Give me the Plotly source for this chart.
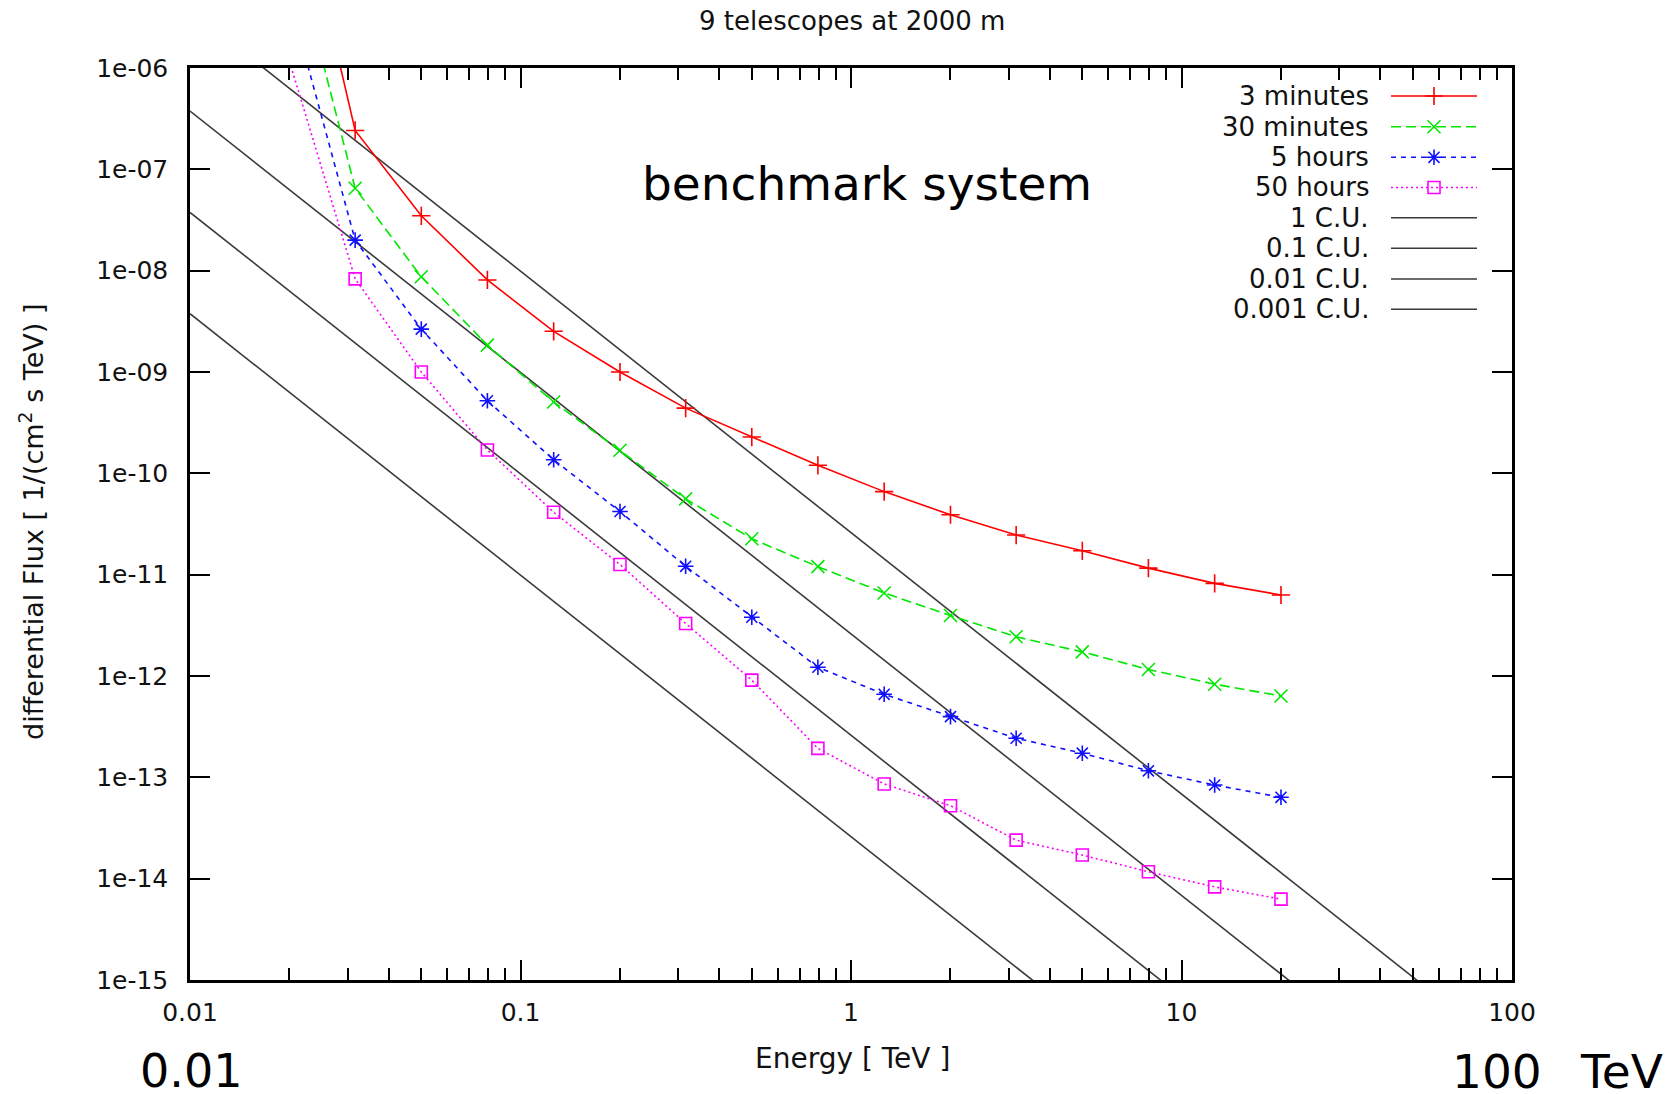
import plotly.graph_objects as go

# ---------------- data ----------------
energy = [0.0200, 0.0316, 0.0501, 0.0794, 0.126, 0.200, 0.316, 0.501, 0.794,
          1.26, 2.00, 3.16, 5.01, 7.94, 12.6, 20.0]
flux_3min = [1.5e-4, 2.42e-7, 3.48e-8, 8.1e-9, 2.52e-9, 1.0e-9, 4.4e-10, 2.28e-10,
             1.2e-10, 6.6e-11, 3.9e-11, 2.46e-11, 1.72e-11, 1.16e-11, 8.2e-12, 6.3e-12]
flux_30min = [2.2e-5, 6.5e-8, 8.7e-9, 1.84e-9, 5.06e-10, 1.69e-10, 5.6e-11, 2.26e-11,
              1.2e-11, 6.6e-12, 3.95e-12, 2.44e-12, 1.73e-12, 1.16e-12, 8.3e-13, 6.35e-13]
flux_5h = [4.9e-6, 2.0e-8, 2.65e-9, 5.2e-10, 1.36e-10, 4.2e-11, 1.21e-11, 3.8e-12,
           1.22e-12, 6.6e-13, 3.97e-13, 2.43e-13, 1.73e-13, 1.16e-13, 8.4e-14, 6.35e-14]
flux_50h = [1.16e-6, 8.3e-9, 1.0e-9, 1.7e-10, 4.13e-11, 1.26e-11, 3.3e-12, 9.1e-13,
            1.93e-13, 8.6e-14, 5.25e-14, 2.4e-14, 1.71e-14, 1.17e-14, 8.3e-15, 6.28e-15]

# Crab-unit reference lines (straight power laws): flux at the two ends of the axis
cu_energy = [0.01, 100.0]
cu_1 = [3.76e-6, 1.80e-16]
cu_01 = [3.76e-7, 1.80e-17]
cu_001 = [3.76e-8, 1.80e-18]
cu_0001 = [3.76e-9, 1.80e-19]

x_tickvals = [0.01, 0.1, 1, 10, 100]
x_ticktext = ["0.01", "0.1", "1", "10", "100"]
y_tickvals = [1e-6, 1e-7, 1e-8, 1e-9, 1e-10, 1e-11, 1e-12, 1e-13, 1e-14, 1e-15]
y_ticktext = ["1e-06", "1e-07", "1e-08", "1e-09", "1e-10", "1e-11", "1e-12",
              "1e-13", "1e-14", "1e-15"]

series_names = ["3 minutes", "30 minutes", "5 hours", "50 hours"]
cu_names = ["1 C.U.", "0.1 C.U.", "0.01 C.U.", "0.001 C.U."]

# ---------------- styles ----------------
FONT = "DejaVu Sans"
styles = [
    dict(color="#ff0000", dash="solid", symbol="cross-thin-open", size=13),
    dict(color="#00e800", dash="10px,5px", symbol="x-thin-open", size=13),
    dict(color="#1010ff", dash="5px,5px", symbol="asterisk-open", size=13),
    dict(color="#ff00ff", dash="2px,3px", symbol="square-open", size=12),
]
CU_COLOR = "#3a3a3a"

fig = go.Figure()

for cu in [cu_1, cu_01, cu_001, cu_0001]:
    fig.add_trace(go.Scatter(x=cu_energy, y=cu, mode="lines",
                             line=dict(color=CU_COLOR, width=1.6),
                             showlegend=False, hoverinfo="skip"))

for flux, st in zip([flux_3min, flux_30min, flux_5h, flux_50h], styles):
    fig.add_trace(go.Scatter(x=energy, y=flux, mode="lines",
                             line=dict(color=st["color"], width=1.6, dash=st["dash"]),
                             showlegend=False, hoverinfo="skip"))
    fig.add_trace(go.Scatter(x=energy[1:], y=flux[1:], mode="markers",
                             marker=dict(symbol=st["symbol"], size=st["size"],
                                         color=st["color"],
                                         line=dict(color=st["color"], width=1.6)),
                             showlegend=False))

# ---------------- manual legend (pixel overlay axes) ----------------
L, R, T, B = 190, 168, 68, 114
W, H = 1680, 1094
PW, PH = W - L - R, H - T - B
row_y = [96, 126.7, 157.3, 187.5, 217.7, 248.3, 279, 309.3]
text_x = 1371
samp_x0, samp_x1, samp_mid = 1391, 1477, 1434


def px(x):
    return (x - L) / PW


def py(y):
    return (H - B - y) / PH


annotations = []
for i, name in enumerate(series_names + cu_names):
    annotations.append(dict(x=px(text_x), y=py(row_y[i]), text=name,
                            xanchor="right", yanchor="middle",
                            font=dict(family=FONT, size=26, color="#111")))
for i, st in enumerate(styles):
    fig.add_trace(go.Scatter(x=[samp_x0, samp_x1], y=[row_y[i], row_y[i]], mode="lines",
                             xaxis="x2", yaxis="y2",
                             line=dict(color=st["color"], width=1.6, dash=st["dash"]),
                             showlegend=False, hoverinfo="skip"))
    fig.add_trace(go.Scatter(x=[samp_mid], y=[row_y[i]], mode="markers",
                             xaxis="x2", yaxis="y2",
                             marker=dict(symbol=st["symbol"], size=st["size"], color=st["color"],
                                         line=dict(color=st["color"], width=1.6)),
                             showlegend=False, hoverinfo="skip"))
for j in range(4):
    fig.add_trace(go.Scatter(x=[samp_x0, samp_x1], y=[row_y[4 + j], row_y[4 + j]],
                             mode="lines", xaxis="x2", yaxis="y2",
                             line=dict(color=CU_COLOR, width=1.6),
                             showlegend=False, hoverinfo="skip"))

# other texts (paper coordinates computed from pixels)
annotations += [
    dict(x=px(852), y=py(21), text="9 telescopes at 2000 m",
         font=dict(family=FONT, size=26, color="#111")),
    dict(x=px(867), y=py(184), text="benchmark system",
         font=dict(family=FONT, size=47, color="#000")),
    dict(x=px(852), y=py(1058), text="Energy [ TeV ]",
         font=dict(family=FONT, size=28, color="#111")),
    dict(x=px(31), y=py(522), text="differential Flux [ 1/(cm<sup>2</sup> s TeV) ]",
         textangle=-90, font=dict(family=FONT, size=27, color="#111")),
    dict(x=px(191), y=py(1071), text="0.01", font=dict(family=FONT, size=46, color="#000")),
    dict(x=px(1497), y=py(1071), text="100", font=dict(family=FONT, size=47, color="#000")),
    dict(x=px(1621), y=py(1071), text="TeV", font=dict(family=FONT, size=47, color="#000")),
]
for a in annotations:
    a.setdefault("xref", "paper")
    a.setdefault("yref", "paper")
    a.setdefault("showarrow", False)
    a.setdefault("xanchor", "center")
    a.setdefault("yanchor", "middle")

minor_x = [m * d for d in [0.01, 0.1, 1, 10] for m in range(2, 10)]

axis_common = dict(showline=True, linewidth=2.5, linecolor="black", mirror="ticks",
                   ticks="inside", ticklen=20, tickwidth=1.5, tickcolor="black",
                   showgrid=False, zeroline=False,
                   tickfont=dict(family=FONT, size=25, color="#111"))

fig.update_layout(
    width=W, height=H,
    margin=dict(l=L, r=R, t=T, b=B, pad=0),
    paper_bgcolor="white", plot_bgcolor="white",
    showlegend=False,
    xaxis=dict(type="log", range=[-2, 2], tickmode="array", tickvals=x_tickvals,
               ticktext=x_ticktext, ticklabelstandoff=8,
               minor=dict(ticks="inside", ticklen=12, tickwidth=1.5, tickcolor="black",
                          tickmode="array", tickvals=minor_x, showgrid=False),
               **axis_common),
    yaxis=dict(type="log", range=[-15, -6], tickmode="array", tickvals=y_tickvals,
               ticktext=y_ticktext, ticklabelstandoff=14, **axis_common),
    xaxis2=dict(overlaying="x", range=[L, W - R], visible=False, anchor="y2"),
    yaxis2=dict(overlaying="y", range=[H - B, T], visible=False, anchor="x2"),
    annotations=annotations,
)

fig.write_html("out.html", config={"displayModeBar": False},
               post_script="document.body.style.margin='0';")
